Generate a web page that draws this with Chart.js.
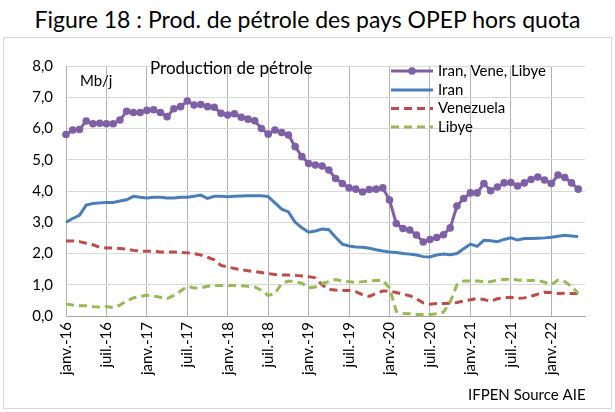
<!DOCTYPE html>
<html>
<head>
<meta charset="utf-8">
<script src="https://cdn.jsdelivr.net/npm/chart.js"></script>
<style>
  body { margin: 0; background: #fff; }
  #wrap { position: relative; width: 615px; height: 412px; overflow: hidden; font-family: Lato, sans-serif; }
  #titre { position: absolute; left: 0; top: 5px; width: 615px; text-align: center; font-size: 23px; font-weight: 400; color: #000; }
  #cadre { position: absolute; left: 3px; top: 37px; width: 607px; height: 370px; border: 1px solid #d9d9d9; }
  canvas { position: absolute; left: 0; top: 0; }
</style>
</head>
<body>
<div id="wrap">
  <div id="titre">Figure 18 : Prod. de pétrole des pays OPEP hors quota</div>
  <div id="cadre"></div>
  <canvas id="graph" width="615" height="412"></canvas>
</div>
<script>
// mois de janv. 2016 a juin 2022 (la derniere categorie reste vide)
var moisAbr = ["janv.", "févr.", "mars", "avr.", "mai", "juin", "juil.", "août", "sept.", "oct.", "nov.", "déc."];
var annees = ["16", "17", "18", "19", "20", "21", "22"];
var mois = [];
annees.forEach(function (a) {
  moisAbr.forEach(function (m) { mois.push(m + "-" + a); });
});
mois = mois.slice(0, 78);

// Mb/j
var total = [5.81, 5.95, 5.97, 6.24, 6.15, 6.17, 6.15, 6.15, 6.27, 6.55, 6.51, 6.51,
             6.58, 6.60, 6.51, 6.38, 6.63, 6.70, 6.88, 6.75, 6.77, 6.70, 6.68, 6.49,
             6.43, 6.47, 6.36, 6.30, 6.25, 6.00, 5.82, 5.95, 5.87, 5.79, 5.42, 5.10,
             4.88, 4.83, 4.80, 4.67, 4.40, 4.24, 4.10, 4.06, 3.97, 4.05, 4.06, 4.10,
             3.71, 2.96, 2.80, 2.75, 2.59, 2.37, 2.45, 2.51, 2.60, 2.82, 3.52, 3.76,
             3.94, 3.94, 4.24, 4.01, 4.13, 4.26, 4.27, 4.16, 4.26, 4.37, 4.45, 4.35,
             4.24, 4.51, 4.43, 4.26, 4.06];
var iran = [3.00, 3.12, 3.22, 3.55, 3.60, 3.62, 3.63, 3.63, 3.68, 3.72, 3.83, 3.80,
            3.78, 3.80, 3.80, 3.78, 3.78, 3.80, 3.80, 3.83, 3.87, 3.76, 3.83, 3.83,
            3.82, 3.83, 3.84, 3.85, 3.85, 3.85, 3.82, 3.62, 3.42, 3.33, 3.00, 2.82,
            2.68, 2.72, 2.78, 2.76, 2.52, 2.30, 2.24, 2.21, 2.20, 2.17, 2.12, 2.08,
            2.05, 2.03, 2.00, 1.98, 1.95, 1.90, 1.89, 1.95, 1.98, 1.96, 2.00, 2.15,
            2.30, 2.23, 2.42, 2.41, 2.38, 2.45, 2.50, 2.43, 2.48, 2.48, 2.49, 2.50,
            2.52, 2.55, 2.58, 2.56, 2.54];
var venezuela = [2.40, 2.40, 2.38, 2.33, 2.28, 2.20, 2.18, 2.18, 2.16, 2.14, 2.10, 2.08,
                 2.07, 2.07, 2.05, 2.05, 2.05, 2.04, 2.02, 2.00, 1.95, 1.88, 1.80, 1.62,
                 1.57, 1.52, 1.48, 1.45, 1.42, 1.39, 1.36, 1.33, 1.31, 1.31, 1.30, 1.28,
                 1.26, 1.22, 1.00, 0.85, 0.83, 0.82, 0.82, 0.78, 0.68, 0.63, 0.72, 0.80,
                 0.80, 0.75, 0.70, 0.65, 0.55, 0.42, 0.38, 0.40, 0.40, 0.41, 0.43, 0.48,
                 0.52, 0.56, 0.53, 0.47, 0.55, 0.58, 0.60, 0.57, 0.58, 0.63, 0.70, 0.76,
                 0.75, 0.72, 0.73, 0.72, 0.72];
var libye = [0.38, 0.35, 0.33, 0.33, 0.30, 0.29, 0.30, 0.27, 0.35, 0.48, 0.58, 0.63,
             0.66, 0.64, 0.60, 0.56, 0.66, 0.80, 0.95, 0.90, 0.90, 0.95, 0.98, 0.98,
             0.98, 0.98, 0.97, 0.95, 0.93, 0.82, 0.66, 0.72, 1.04, 1.12, 1.10, 1.05,
             0.90, 0.93, 1.04, 1.10, 1.17, 1.12, 1.10, 1.07, 1.10, 1.12, 1.14, 1.14,
             0.90, 0.15, 0.08, 0.07, 0.05, 0.05, 0.05, 0.07, 0.12, 0.45, 1.00, 1.12,
             1.12, 1.12, 1.10, 1.10, 1.15, 1.17, 1.18, 1.15, 1.14, 1.14, 1.14, 1.08,
             1.00, 1.15, 1.10, 0.95, 0.72];

var legendY = [71, 90, 108.5, 127];

var annotations = {
  id: "annotations",
  afterDraw: function (chart) {
    var ctx = chart.ctx;
    ctx.save();
    ctx.textBaseline = "middle";
    ctx.fillStyle = "#000";
    ctx.font = "15px Lato";
    ctx.fillText("Mb/j", 80, 81);
    ctx.fillText("IFPEN Source AIE", 468, 395);
    ctx.font = "17px Lato";
    ctx.fillText("Production de pétrole", 150, 69);

    // legende dans la zone du graphique
    ctx.font = "15px Lato";
    chart.data.datasets.forEach(function (ds, i) {
      var y = legendY[i];
      ctx.strokeStyle = ds.borderColor;
      ctx.lineWidth = ds.borderWidth;
      ctx.setLineDash(ds.borderDash || []);
      ctx.beginPath();
      ctx.moveTo(391, y);
      ctx.lineTo(433, y);
      ctx.stroke();
      ctx.setLineDash([]);
      if (ds.pointRadius) {
        ctx.fillStyle = ds.borderColor;
        ctx.beginPath();
        ctx.arc(412, y, ds.pointRadius, 0, 2 * Math.PI);
        ctx.fill();
      }
      ctx.fillStyle = "#000";
      ctx.fillText(ds.label, 438, y);
    });
    ctx.restore();
  }
};

new Chart("graph", {
  type: "line",
  data: {
    labels: mois,
    datasets: [
      {
        label: "Iran, Vene, Libye",
        data: total,
        borderColor: "#7f60a6",
        backgroundColor: "#7f60a6",
        borderWidth: 3,
        pointRadius: 3.8,
        pointBorderWidth: 0,
        order: 4
      },
      {
        label: "Iran",
        data: iran,
        borderColor: "#4a7ebb",
        borderWidth: 3,
        pointRadius: 0,
        order: 3
      },
      {
        label: "Venezuela",
        data: venezuela,
        borderColor: "#be4b48",
        borderWidth: 3,
        borderDash: [8, 5],
        pointRadius: 0,
        order: 2
      },
      {
        label: "Libye",
        data: libye,
        borderColor: "#98b954",
        borderWidth: 3,
        borderDash: [8, 5],
        pointRadius: 0,
        order: 1
      }
    ]
  },
  options: {
    responsive: false,
    animation: false,
    devicePixelRatio: 1,
    clip: false,
    layout: { padding: { left: 0, right: 30, top: 66, bottom: 0 } },
    plugins: {
      legend: { display: false },
      tooltip: { enabled: false }
    },
    scales: {
      x: {
        offset: false,
        grid: { color: "#b3b3b3", drawTicks: false },
        border: { color: "#a6a6a6" },
        ticks: {
          autoSkip: false,
          maxRotation: 90,
          minRotation: 90,
          padding: 6,
          color: "#000",
          font: { family: "Lato", size: 15 },
          callback: function (v, i) {
            return (i % 6 === 0 && i <= 72) ? mois[i] : null;
          }
        },
        afterFit: function (s) { s.height = 96; }
      },
      y: {
        min: 0,
        max: 8,
        grid: { color: "#d9d9d9", drawTicks: false },
        border: { color: "#b3b3b3" },
        ticks: {
          stepSize: 1,
          padding: 13,
          color: "#000",
          font: { family: "Lato", size: 15 },
          callback: function (v) { return v.toFixed(1).replace(".", ","); }
        },
        afterFit: function (s) { s.width = 66; }
      }
    }
  },
  plugins: [annotations]
});
</script>
</body>
</html>
